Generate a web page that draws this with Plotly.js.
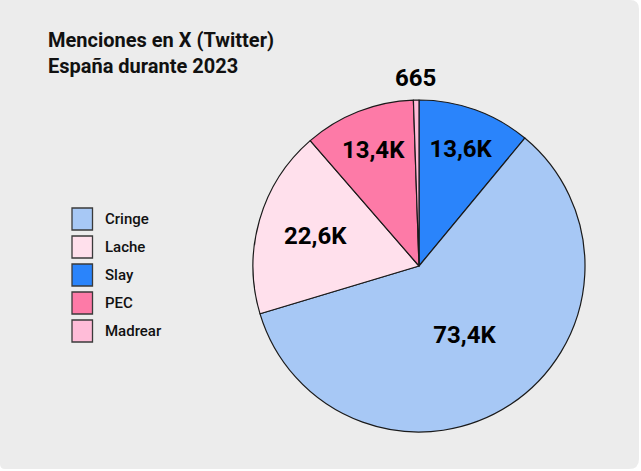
<!DOCTYPE html>
<html>
<head>
<meta charset="utf-8">
<script src="https://cdn.plot.ly/plotly-3.0.1.min.js"></script>
<style>
html,body{margin:0;padding:0;background:#fff;}
#chart{width:641px;height:471px;}
</style>
</head>
<body>
<div id="chart"></div>
<script>
// Data (pie order clockwise from 12 o'clock)
const sliceLabels = ['Slay', 'Cringe', 'Lache', 'PEC', 'Madrear'];
const sliceValues = [13600, 73400, 22600, 13400, 665];
const sliceColors = ['#2a84fb', '#a7c8f5', '#ffe0ec', '#fd7aa7', '#ffbcd8'];
const sliceText = ['13,6K', '73,4K', '22,6K', '13,4K', '665'];
// Legend order
const legendLabels = ['Cringe', 'Lache', 'Slay', 'PEC', 'Madrear'];
const legendColors = ['#a7c8f5', '#ffe0ec', '#2a84fb', '#fd7aa7', '#ffbcd8'];

const W = 641, H = 471;
const px = x => x / W;
const py = y => 1 - y / H;

const fontFam = 'Roboto, "Noto Sans", sans-serif';

const shapes = [];
// rounded background panel
(function(){
  const x0 = 0, x1 = 639, y0 = 0, y1 = 469, rTR = 9, rBR = 10, rBL = 5;
  const p = (x, y) => px(x) + ',' + py(y);
  const d = 'M ' + p(x0, y0) +
    ' L ' + p(x1 - rTR, y0) + ' Q ' + p(x1, y0) + ' ' + p(x1, y0 + rTR) +
    ' L ' + p(x1, y1 - rBR) + ' Q ' + p(x1, y1) + ' ' + p(x1 - rBR, y1) +
    ' L ' + p(x0 + rBL, y1) + ' Q ' + p(x0, y1) + ' ' + p(x0, y1 - rBL) + ' Z';
  shapes.push({type: 'path', xref: 'paper', yref: 'paper', path: d,
    fillcolor: '#ececec', line: {width: 0}, layer: 'below'});
})();

const annotations = [{
  xref: 'paper', yref: 'paper', x: px(46), y: py(26), xanchor: 'left', yanchor: 'top',
  align: 'left', showarrow: false,
  text: 'Menciones en X (Twitter)<br>España durante 2023',
  font: {family: fontFam, size: 20, color: '#111', weight: 700}
}];

legendLabels.forEach((lab, i) => {
  const yc = 219 + i * 28;
  shapes.push({type: 'rect', xref: 'paper', yref: 'paper',
    x0: px(72), x1: px(92.5), y0: py(yc - 11), y1: py(yc + 11),
    fillcolor: legendColors[i], line: {color: '#3a3a3a', width: 1.3}, layer: 'below'});
  annotations.push({xref: 'paper', yref: 'paper', x: px(103), y: py(yc),
    xanchor: 'left', yanchor: 'middle', showarrow: false, text: lab,
    font: {family: fontFam, size: 15, color: '#111', weight: 500}});
});

const cx = 419, cy = 266, r = 166;

// The tiny last slice gets its label centred outside, along its mid angle
const total = sliceValues.reduce((a, b) => a + b, 0);
const lastIdx = sliceValues.length - 1;
const cumBefore = sliceValues.slice(0, lastIdx).reduce((a, b) => a + b, 0);
const midAngle = 2 * Math.PI * (cumBefore + sliceValues[lastIdx] / 2) / total;
const labelR = r + 22;
annotations.push({xref: 'paper', yref: 'paper',
  x: px(cx + labelR * Math.sin(midAngle)), y: py(cy - labelR * Math.cos(midAngle)),
  xanchor: 'center', yanchor: 'middle', showarrow: false, text: sliceText[lastIdx],
  font: {family: fontFam, size: 24, color: '#000', weight: 700}});

const trace = {
  type: 'pie',
  labels: sliceLabels,
  values: sliceValues,
  text: sliceText,
  textinfo: 'text',
  hoverinfo: 'label+value',
  sort: false,
  direction: 'clockwise',
  rotation: 0,
  marker: {colors: sliceColors, line: {color: '#1a1a1a', width: 1.2}},
  textposition: sliceValues.map((v, i) => i === lastIdx ? 'none' : 'inside'),
  insidetextorientation: 'horizontal',
  textfont: {family: fontFam, size: 24, color: '#000', weight: 700},
  showlegend: false,
  domain: {x: [px(cx - r), px(cx + r)], y: [py(cy + r), py(cy - r)]}
};

const layout = {
  width: W, height: H,
  margin: {l: 0, r: 0, t: 0, b: 0},
  paper_bgcolor: '#ffffff',
  showlegend: false,
  shapes: shapes,
  annotations: annotations
};

Plotly.newPlot('chart', [trace], layout, {displayModeBar: false, staticPlot: true});
</script>
</body>
</html>
